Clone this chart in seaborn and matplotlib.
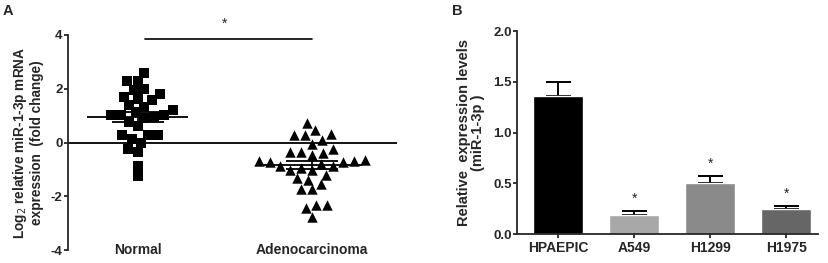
import numpy as np
import pandas as pd
import matplotlib
matplotlib.use("Agg")
import matplotlib.pyplot as plt
import seaborn as sns

# Panel A: log2 fold change per sample
normal_vals = [2.59, 2.30, 2.30, 2.00, 1.95, 1.71, 1.79, 1.57, 1.61, 1.39, 1.33, 1.20,
               1.02, 1.02, 1.12, 1.02, 0.94, 0.90, 0.78, 0.61, 0.15, 0.27, 0.27, 0.27,
               0.00, -0.24, -0.34, -0.89, -1.26]
adeno_vals = [0.73, 0.33, 0.27, 0.45, 0.29, 0.09, -0.04, -0.34, -0.46, -0.40, -0.34,
              -0.24, -0.66, -0.70, -0.74, -0.68, -0.72, -0.79, -0.89, -1.01, -0.89,
              -1.01, -0.95, -1.20, -1.38, -1.32, -1.54, -1.74, -1.74, -2.32, -2.32,
              -2.44, -2.76]
groups = ["Normal", "Adenocarcinoma"]

# Panel B: relative expression
cell_lines = ["HPAEPIC", "A549", "H1299", "H1975"]
expr_means = [1.36, 0.19, 0.50, 0.25]
expr_err = [0.14, 0.04, 0.07, 0.03]
bar_colors = ["#000000", "#a8a8a8", "#8a8a8a", "#666666"]

sns.set_style("ticks")
plt.rcParams["font.family"] = ["Liberation Sans", "DejaVu Sans"]
plt.rcParams["axes.unicode_minus"] = False

fig = plt.figure(figsize=(8.29, 2.63), dpi=100)
ax1 = fig.add_axes([0.082, 0.049, 0.397, 0.818])
ax2 = fig.add_axes([0.624, 0.110, 0.363, 0.772])

# ---- Panel A ----
df_a = pd.DataFrame({
    "group": ["Normal"] * len(normal_vals) + ["Adenocarcinoma"] * len(adeno_vals),
    "value": normal_vals + adeno_vals,
})
sns.swarmplot(data=df_a[df_a["group"] == "Normal"], x="group", y="value", order=groups,
              marker="s", color="black", size=7, ax=ax1)
sns.swarmplot(data=df_a[df_a["group"] == "Adenocarcinoma"], x="group", y="value", order=groups,
              marker="^", color="black", size=7.5, ax=ax1)

for i, vals in enumerate([normal_vals, adeno_vals]):
    m = np.mean(vals)
    sem = np.std(vals, ddof=1) / np.sqrt(len(vals))
    ax1.hlines(m, i - 0.29, i + 0.29, color="black", lw=1.3, zorder=3)
    ax1.hlines([m - sem, m + sem], i - 0.15, i + 0.15, color="black", lw=1.3, zorder=3)
    ax1.vlines(i, m - sem, m + sem, color="black", lw=1.3, zorder=3)

ax1.axhline(0, color="black", lw=1.3, zorder=1)
ax1.set_xlim(-0.40, 1.49)
ax1.set_ylim(-4, 4)
ax1.set_yticks([-4, -2, 0, 2, 4])
ax1.tick_params(axis="y", labelsize=9.5, width=1.3, length=3, pad=1)
ax1.tick_params(axis="x", length=0, labelbottom=False)
for lab in ax1.get_yticklabels():
    lab.set_fontweight("bold")
for i, g in enumerate(groups):
    ax1.text(i, -4, g, ha="center", va="center", fontsize=10, fontweight="bold")
sns.despine(ax=ax1, bottom=True)
ax1.spines["left"].set_linewidth(1.3)
ax1.set_xlabel("")
ax1.set_ylabel("Log$_2$ relative miR-1-3p mRNA\nexpression  (fold change)",
               fontsize=9.8, fontweight="bold", labelpad=5, linespacing=1.05)

ax1.plot([0.04, 1.0], [3.85, 3.85], color="black", lw=1.2, clip_on=False)
ax1.text(0.5, 4.4, "*", ha="center", va="center", fontsize=10, clip_on=False)

# ---- Panel B ----
df_b = pd.DataFrame({"cell": cell_lines, "expr": expr_means})
sns.barplot(data=df_b, x="cell", y="expr", hue="cell", palette=bar_colors,
            legend=False, width=0.66, ax=ax2, saturation=1)
ax2.errorbar(range(len(cell_lines)), expr_means, yerr=[[0] * 4, expr_err], fmt="none",
             ecolor="black", elinewidth=1.4, capsize=9, capthick=1.4, zorder=0)
for i in range(1, len(cell_lines)):
    ax2.text(i, expr_means[i] + expr_err[i] + 0.12, "*", ha="center", va="center",
             fontsize=10)

ax2.set_xlim(-0.54, 3.42)
ax2.set_ylim(0, 2.0)
ax2.set_yticks([0.0, 0.5, 1.0, 1.5, 2.0])
ax2.set_yticklabels(["0.0", "0.5", "1.0", "1.5", "2.0"])
ax2.tick_params(axis="y", labelsize=9.5, width=1.3, length=3, pad=1)
ax2.tick_params(axis="x", labelsize=10, width=1.3, length=3, pad=2)
for lab in ax2.get_yticklabels() + ax2.get_xticklabels():
    lab.set_fontweight("bold")
sns.despine(ax=ax2)
ax2.spines["left"].set_linewidth(1.3)
ax2.spines["bottom"].set_linewidth(1.3)
ax2.set_xlabel("")
ax2.set_ylabel("Relative  expression levels\n(miR-1-3p )", fontsize=10.5,
               fontweight="bold", labelpad=6, linespacing=1.0)

fig.text(0.003, 0.985, "A", fontsize=10.5, fontweight="bold", va="top")
fig.text(0.545, 0.985, "B", fontsize=10.5, fontweight="bold", va="top")

fig.savefig("out.png", dpi=100)
